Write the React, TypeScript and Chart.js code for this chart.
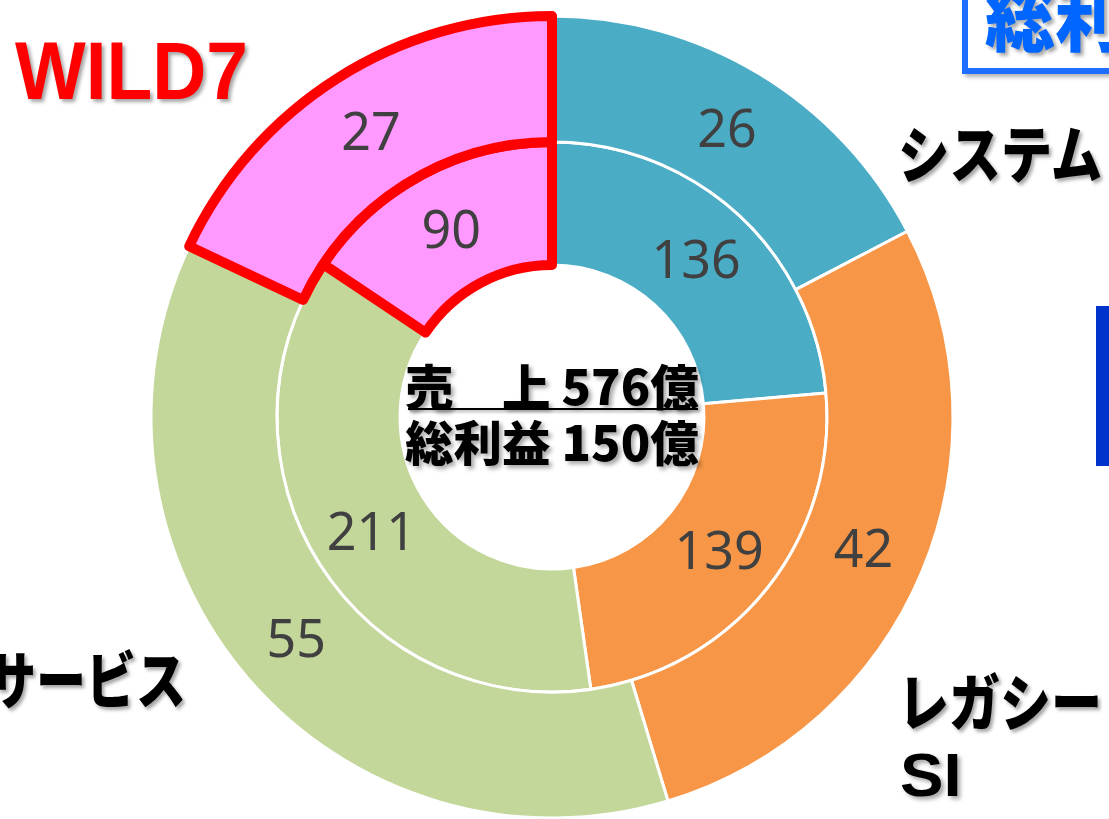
import React, { useEffect, useLayoutEffect, useRef, useState } from "react";
import { Chart, registerables } from "chart.js";

Chart.register(...registerables);

// ---- data ----
const categories = ["システム", "レガシーSI", "サービス", "WILD7"];
const salesValues = [136, 139, 211, 90]; // inner ring (売上, 億)
const profitValues = [26, 42, 55, 27]; // outer ring (総利益, 億)
const segmentColors = ["#4BACC6", "#F79646", "#C4D79B", "#FF99FF"];
const segmentBorderColors = ["#FFFFFF", "#FFFFFF", "#FFFFFF", "#FF0000"];
const segmentBorderWidths = [3, 3, 3, 10];

const salesTotal = salesValues.reduce((a, b) => a + b, 0);
const profitTotal = profitValues.reduce((a, b) => a + b, 0);

const valueLabels = {
  id: "valueLabels",
  afterDatasetsDraw(chart: any) {
    const ctx = chart.ctx;
    ctx.save();
    ctx.font = '52px "Noto Sans"';
    ctx.fillStyle = "#404040";
    ctx.textAlign = "center";
    ctx.textBaseline = "middle";
    chart.data.datasets.forEach((ds: any, di: number) => {
      const meta = chart.getDatasetMeta(di);
      meta.data.forEach((arc: any, i: number) => {
        const p = arc.getCenterPoint();
        ctx.fillText(String(ds.data[i]), p.x, p.y + 4);
      });
    });
    ctx.restore();
  },
};

type FitProps = {
  left: number;
  top: number;
  width: number;
  size: number;
  family: string;
  color: string;
  text: string;
  weight?: number;
  shadow?: string;
};

function FitText({ left, top, width, size, family, color, text, weight = 700, shadow }: FitProps) {
  const ref = useRef<HTMLDivElement>(null);
  const [scale, setScale] = useState(1);
  useLayoutEffect(() => {
    const measure = () => {
      const el = ref.current;
      if (!el) return;
      const natural = el.offsetWidth;
      if (natural > 0) setScale(width / natural);
    };
    measure();
    if ((document as any).fonts && (document as any).fonts.ready) {
      (document as any).fonts.ready.then(measure);
    }
  }, [text, width, size, family]);
  return (
    <div
      ref={ref}
      style={{
        position: "absolute",
        left,
        top,
        fontFamily: family,
        fontSize: size,
        fontWeight: weight,
        lineHeight: 1,
        color,
        whiteSpace: "nowrap",
        transformOrigin: "left top",
        transform: `scaleX(${scale})`,
        textShadow: shadow ?? "3px 3px 4px rgba(0,0,0,0.35)",
      }}
    >
      {text}
    </div>
  );
}

const JP = '"Noto Sans CJK JP", "Noto Sans", sans-serif';
const LAT = '"Liberation Sans", Arial, sans-serif';

export default function App() {
  const canvasRef = useRef<HTMLCanvasElement>(null);

  useEffect(() => {
    const canvas = canvasRef.current;
    if (!canvas) return;
    const chart = new Chart(canvas, {
      type: "doughnut",
      data: {
        labels: categories,
        datasets: [
          {
            label: "総利益",
            data: profitValues,
            backgroundColor: segmentColors,
            borderColor: segmentBorderColors,
            borderWidth: segmentBorderWidths,
            borderJoinStyle: "round",
            weight: 126,
          } as any,
          {
            label: "売上",
            data: salesValues,
            backgroundColor: segmentColors,
            borderColor: segmentBorderColors,
            borderWidth: segmentBorderWidths,
            borderJoinStyle: "round",
            weight: 123,
          } as any,
        ],
      },
      options: {
        responsive: false,
        maintainAspectRatio: false,
        animation: false,
        events: [],
        radius: 401,
        cutout: "37.9%",
        layout: { padding: { left: 0, right: 5, top: 0, bottom: 0 } },
        plugins: {
          legend: { display: false },
          tooltip: { enabled: false },
        },
      } as any,
      plugins: [valueLabels],
    });
    return () => chart.destroy();
  }, []);

  return (
    <div
      style={{
        position: "fixed",
        left: 0,
        top: 0,
        width: 1109,
        height: 819,
        overflow: "hidden",
        background: "#FFFFFF",
      }}
    >
      <canvas ref={canvasRef} width={1109} height={834} style={{ position: "absolute", left: 0, top: 0, display: "block" }} />

      {/* top-right boxed title (clipped) */}
      <div
        style={{
          position: "absolute",
          left: 962,
          top: -30,
          width: 220,
          height: 92,
          border: "6px solid #1E6EFF",
          boxShadow: "3px 3px 4px rgba(0,0,0,0.3)",
          background: "#FFFFFF",
        }}
      />
      <FitText left={985} top={-22} width={210} size={72} family={JP} weight={900} color="#0066FF" text="総利益" />

      {/* right blue bar (clipped) */}
      <div style={{ position: "absolute", left: 1096, top: 306, width: 30, height: 160, background: "#0033CC" }} />

      <FitText left={15} top={31} width={233} size={81} family={LAT} color="#FF0000" text="WILD7" />
      <FitText left={898} top={120} width={204} size={62} family={JP} weight={900} color="#000000" text="システム" />
      <FitText left={898} top={668} width={204} size={62} family={JP} weight={900} color="#000000" text="レガシー" />
      <FitText left={900} top={744} width={62} size={62} family={LAT} color="#000000" text="SI" />
      <FitText left={-14} top={646} width={200} size={62} family={JP} weight={900} color="#000000" text="サービス" />

      {/* centre */}
      <FitText left={405} top={360} width={294} size={48} family={JP} weight={900} color="#000000" text={`売　上 ${salesTotal}億`} />
      <div
        style={{
          position: "absolute",
          left: 408,
          top: 408,
          width: 290,
          height: 2,
          background: "#000000",
          boxShadow: "2px 2px 3px rgba(0,0,0,0.35)",
        }}
      />
      <FitText left={405} top={416} width={294} size={48} family={JP} weight={900} color="#000000" text={`総利益 ${profitTotal}億`} />
    </div>
  );
}
